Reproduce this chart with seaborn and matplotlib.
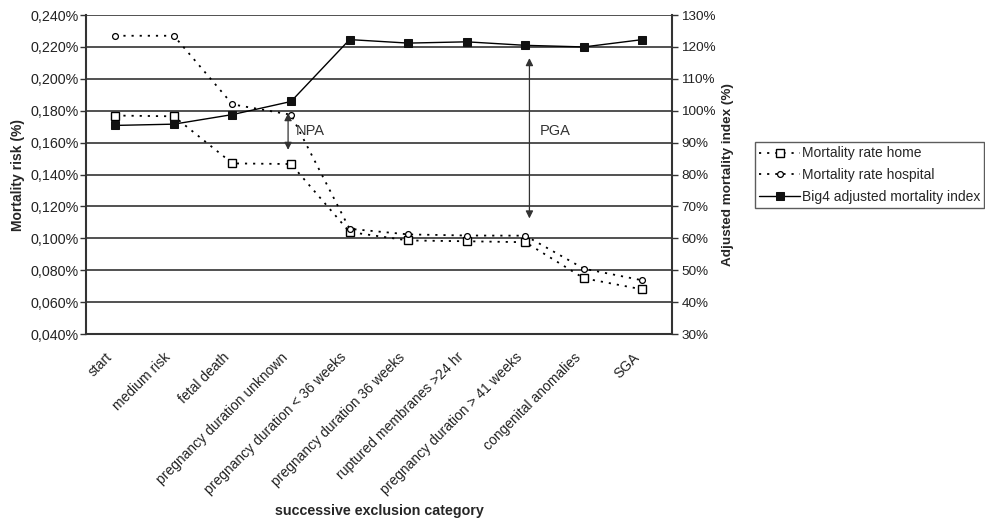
import numpy as np
import pandas as pd
import seaborn as sns
import matplotlib.pyplot as plt
import matplotlib.transforms as mtransforms
from matplotlib.ticker import FuncFormatter

categories = [
    "start",
    "medium risk",
    "fetal death",
    "pregnancy duration unknown",
    "pregnancy duration < 36 weeks",
    "pregnancy duration 36 weeks",
    "ruptured membranes >24 hr",
    "pregnancy duration > 41 weeks",
    "congenital anomalies",
    "SGA",
]
# mortality risk in %
rate_home = [0.177, 0.1765, 0.147, 0.1466, 0.104, 0.0987, 0.0982, 0.0976, 0.0750, 0.0680]
rate_hospital = [0.227, 0.227, 0.1840, 0.1775, 0.1060, 0.1025, 0.1018, 0.1017, 0.0810, 0.0737]
# adjusted mortality index in %
big4_index = [95.4, 95.8, 98.8, 102.9, 122.3, 121.2, 121.6, 120.5, 120.0, 122.3]

sns.set_style("white")
plt.rcParams["font.family"] = ["Liberation Sans", "DejaVu Sans"]
plt.rcParams["font.size"] = 10

df = pd.DataFrame({
    "pos": np.arange(len(categories)),
    "home": rate_home,
    "hospital": rate_hospital,
    "big4": big4_index,
})

fig, ax = plt.subplots(figsize=(9.85, 5.18), dpi=100)
fig.subplots_adjust(left=0.0873, right=0.682, top=0.971, bottom=0.355)
ax2 = ax.twinx()

ax.set_axisbelow(True)
ax.yaxis.grid(True, color="#222222", linewidth=1.1)

dots = (0, (1.2, 3.3))
sns.lineplot(data=df, x="pos", y="home", ax=ax, color="black", linestyle=dots,
             linewidth=1.3, marker="s", markersize=5.5, markerfacecolor="white",
             markeredgecolor="black", markeredgewidth=1.0, label="Mortality rate home",
             legend=False, sort=False)
sns.lineplot(data=df, x="pos", y="hospital", ax=ax, color="black", linestyle=dots,
             linewidth=1.3, marker="o", markersize=4.2, markerfacecolor="white",
             markeredgecolor="black", markeredgewidth=0.9, label="Mortality rate hospital",
             legend=False, sort=False)
sns.lineplot(data=df, x="pos", y="big4", ax=ax2, color="black", linestyle="-",
             linewidth=1.0, marker="s", markersize=6, markerfacecolor="#111111",
             markeredgecolor="#111111", label="Big4 adjusted mortality index",
             legend=False, sort=False)

ax.set_ylim(0.04, 0.24)
ax.set_yticks(np.arange(0.04, 0.2401, 0.02))
ax.yaxis.set_major_formatter(FuncFormatter(lambda v, p: f"{v:.3f}%".replace(".", ",")))
ax2.set_ylim(30, 130)
ax2.set_yticks(np.arange(30, 131, 10))
ax2.yaxis.set_major_formatter(FuncFormatter(lambda v, p: f"{v:.0f}%"))

ax.set_xlim(-0.5, len(categories) - 0.5)
ax.set_xticks(df["pos"])
ax.set_xticklabels(categories, rotation=45, ha="right", rotation_mode="anchor")

for a in (ax, ax2):
    for side in ["left", "right", "bottom", "top"]:
        a.spines[side].set_visible(False)
ax.spines["left"].set_visible(True)
ax.spines["bottom"].set_visible(True)
ax2.spines["right"].set_visible(True)
for sp in [ax.spines["left"], ax.spines["bottom"], ax2.spines["right"]]:
    sp.set_color("#333333")
    sp.set_linewidth(1.5)

ax.tick_params(axis="y", which="both", left=True, length=4, width=1, color="#333333",
               labelsize=10.3, labelcolor="#222222", pad=1)
ax.tick_params(axis="x", bottom=False, labelsize=10, labelcolor="#222222", pad=8)
ax2.tick_params(axis="y", right=True, length=4, width=1, color="#333333",
                labelsize=9.7, labelcolor="#222222", pad=3)

ax.set_xlabel("successive exclusion category", fontweight="bold", fontsize=10.3, labelpad=5)
ax.set_ylabel("Mortality risk (%)", fontweight="bold", fontsize=10, labelpad=4)
ax2.set_ylabel("Adjusted mortality index (%)", fontweight="bold", fontsize=9.7, labelpad=4)

# gap annotations
arrow = dict(arrowstyle="<|-|>", color="#333333", lw=0.9, mutation_scale=11,
             shrinkA=0, shrinkB=0)
ax.annotate("", xy=(2.95, 0.1555), xytext=(2.95, 0.1785), arrowprops=arrow)
ax.text(3.08, 0.167, "NPA", fontsize=10.5, color="#333333", va="center")
ax.annotate("", xy=(7.07, 0.1125), xytext=(7.07, 0.2130), arrowprops=arrow)
ax.text(7.25, 0.167, "PGA", fontsize=10.5, color="#333333", va="center")

handles = ax.get_lines()[:2] + ax2.get_lines()[:1]
labels = ["Mortality rate home", "Mortality rate hospital", "Big4 adjusted mortality index"]
leg = fig.legend(handles, labels, loc="center left", bbox_to_anchor=(0.766, 0.662),
                 frameon=True, fancybox=False, edgecolor="#333333", fontsize=10,
                 handlelength=3.0, handletextpad=0.1, borderpad=0.3, labelspacing=0.55,
                 borderaxespad=0)
leg.get_frame().set_linewidth(1.0)

# nudge the slanted category labels left, like the original
fig.canvas.draw()
shift = mtransforms.ScaledTranslation(-10 / 100, 0, fig.dpi_scale_trans)
for lbl in ax.xaxis.get_majorticklabels():
    lbl.set_transform(lbl.get_transform() + shift)

fig.savefig("out.png", dpi=100)
